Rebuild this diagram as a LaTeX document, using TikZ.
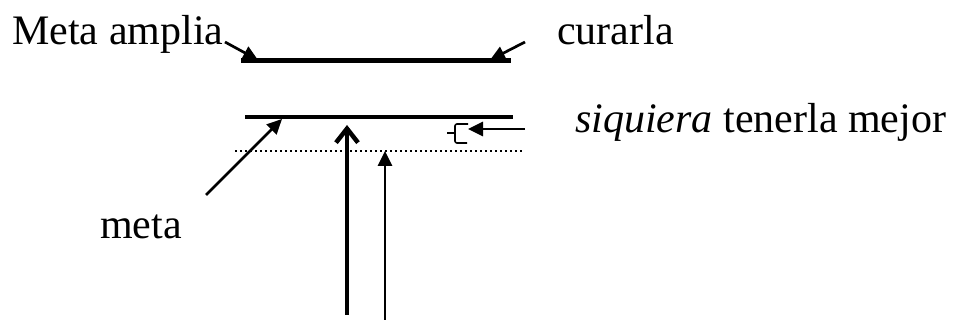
\documentclass[tikz,border=0pt]{standalone}
\usepackage{fontspec}
\setmainfont{Liberation Serif}
\usepackage{tikz}
\usetikzlibrary{arrows.meta,calc,positioning}

\begin{document}
\begin{tikzpicture}[x=1pt,y=-1pt,
    lbl/.style={inner sep=0pt,anchor=base west,font=\fontsize{42}{50}\selectfont},
    tri/.style={-{Triangle[length=15pt,width=14pt]}}]
                \useasboundingbox (0,0) rectangle (954,320);
                % Labels
                \node[lbl] (amplia) at (12,45) {Meta amplia};
                \node[lbl] (curarla) at (557,45) {curarla};
                \node[lbl] (siquiera) at (575,133) {\textit{siquiera} tenerla mejor};
                \node[lbl] (meta) at (100,239) {meta};
                % Bars
                \draw[line width=5pt] (241,61) -- (511,61);
                \draw[line width=4pt] (245,117) -- (513,117);
                \draw[line width=1.8pt, dash pattern=on 2pt off 3pt] (235,151) -- (523,151);
                % Arrows onto the top bar
                \coordinate (a1) at (225,42);
                \coordinate (c1) at (525,42);
                \draw[tri, line width=2.7pt] (a1) -- (258,60);
                \draw[tri, line width=2.7pt] (c1) -- (490,60);
                % meta
                \coordinate (m1) at (206,195);
                \draw[tri, line width=2.7pt] (m1) -- (282,119);
                % vertical arrows
                \coordinate (v1) at (347,315);
                \coordinate (v2) at (385,320);
                \draw[-{Straight Barb[length=14pt,width=22pt]}, line width=4.5pt] (v1) -- (347,125);
                \draw[tri, line width=2.7pt] (v2) -- (385,151);
                % siquiera
                \coordinate (s1) at (525,129);
                \draw[tri, line width=2.7pt] (s1) -- (468,129);
                \draw[line width=1.6pt, rounded corners=2pt] (468,124) -- (455,124) -- (455,143) -- (467,143);
                \draw[line width=1.6pt] (447,133) -- (455,133);
              \end{tikzpicture}
\end{document}
